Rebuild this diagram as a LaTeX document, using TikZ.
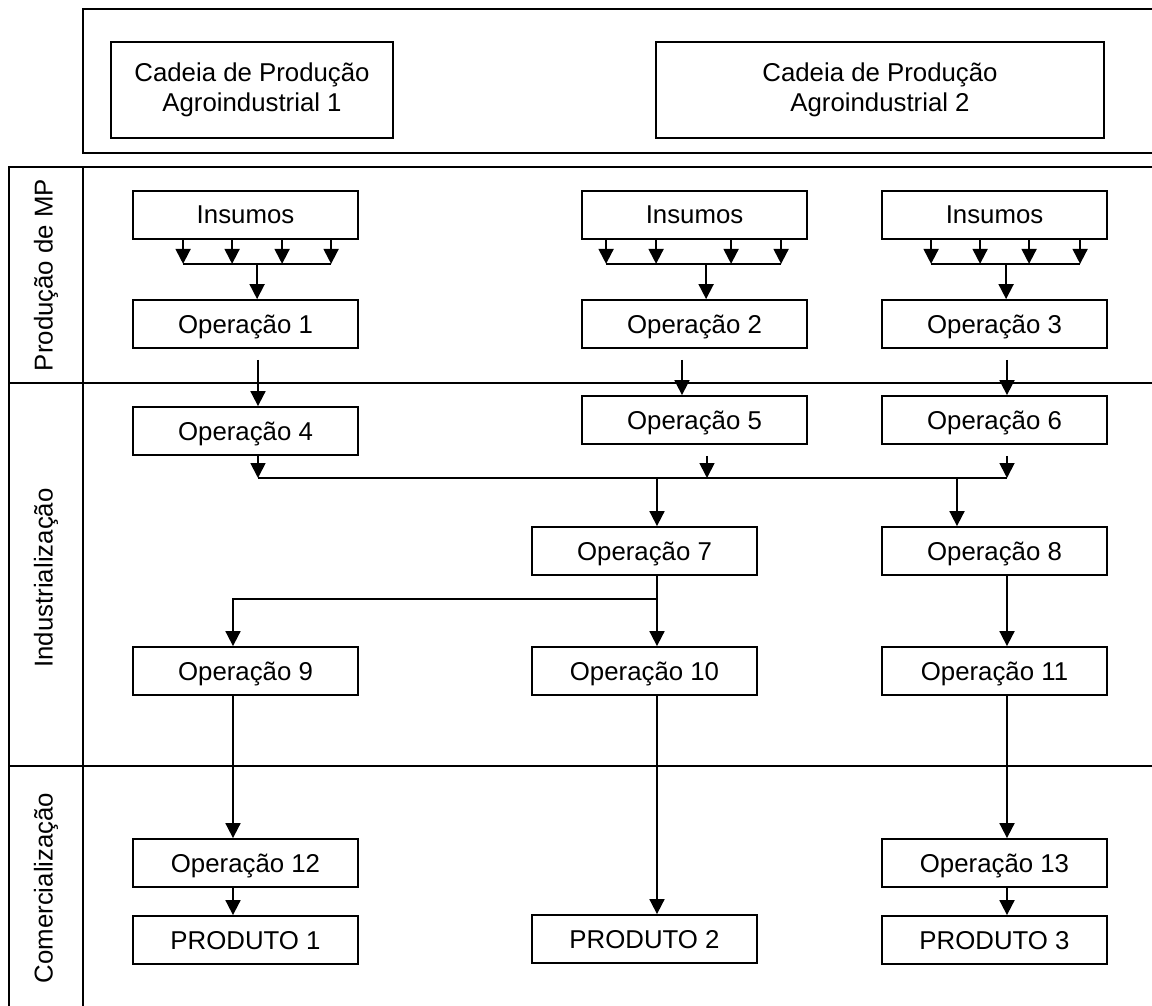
\documentclass[tikz,border=0pt]{standalone}
\usepackage{fontspec}
\setmainfont{Liberation Sans}
\usetikzlibrary{arrows.meta}

\tikzset{
  opbox/.style={draw, line width=1.8pt, minimum width=225pt, minimum height=48pt,
                inner sep=0pt, text depth=0pt, font=\fontsize{25.8}{30}\selectfont},
  lane/.style={rotate=90, inner sep=0pt, font=\fontsize{25.8}{30}\selectfont},
  flow/.style={line width=1.8pt, -{Triangle[width=15pt,length=15pt]}},
  link/.style={line width=1.8pt},
  frame/.style={line width=2.5pt},
}

\begin{document}
\begin{tikzpicture}[x=1pt, y=-1pt]
\useasboundingbox (0,0) rectangle (1152,1006);

% cabecalho
\draw[frame] (1152,9) -- (83,9) -- (83,153) -- (1152,153);
\node[opbox, text depth=, minimum width=282pt, minimum height=96pt, align=center] (cad1) at (252,90)
  {Cadeia de Produção\\Agroindustrial 1};
\node[opbox, text depth=, minimum width=448pt, minimum height=96pt, align=center] (cad2) at (880,90)
  {Cadeia de Produção\\Agroindustrial 2};

% raias
\draw[frame] (1152,167) -- (9,167) -- (9,1006);
\draw[frame] (83,167) -- (83,1006);
\draw[frame] (9,383) -- (1152,383);
\draw[frame] (9,766) -- (1152,766);
\node[lane] (lmp)  at (46,275) {Produção de MP};
\node[lane] (lind) at (46,578) {Industrialização};
\node[lane] (lcom) at (46,888) {Comercialização};

% colunas dos conectores
\coordinate (xA) at (258,0);
\coordinate (xA2) at (233,0);
\coordinate (xB) at (682,0);
\coordinate (xB2) at (707,0);
\coordinate (xC) at (657,0);
\coordinate (xD) at (1007,0);
\coordinate (xD2) at (957,0);

% producao de MP
\foreach \n/\x in {1/133, 2/582, 3/882} {
  \node[opbox] (ins\n) at (\x+112.5,215) {Insumos};
  \node[opbox] (op\n) at (\x+112.5,324) {Operação \n};
}
\foreach \n/\offs in {1/{51,100,150,199}, 2/{25,75,150,200}, 3/{50,99,148,199}} {
  \foreach \d in \offs {
    \draw[flow] ([xshift=\d pt]ins\n.south west) -- ++(0,24);
  }
  \draw[flow] ([xshift=125pt,yshift=-24pt]ins\n.south west) -- ([xshift=125pt]op\n.north west);
}
\draw[link] ([xshift=51pt,yshift=-24pt]ins1.south west) -- ([xshift=199pt,yshift=-24pt]ins1.south west);
\draw[link] ([xshift=25pt,yshift=-24pt]ins2.south west) -- ([xshift=200pt,yshift=-24pt]ins2.south west);
\draw[link] ([xshift=50pt,yshift=-24pt]ins3.south west) -- ([xshift=199pt,yshift=-24pt]ins3.south west);

% industrializacao
\node[opbox] (op4) at (245.5,431) {Operação 4};
\node[opbox] (op5) at (694.5,420) {Operação 5};
\node[opbox] (op6) at (994.5,420) {Operação 6};
\node[opbox] (op7) at (644.5,551) {Operação 7};
\node[opbox] (op8) at (994.5,551) {Operação 8};
\node[opbox] (op9) at (245.5,671) {Operação 9};
\node[opbox] (op10) at (644.5,671) {Operação 10};
\node[opbox] (op11) at (994.5,671) {Operação 11};

\draw[flow] ([yshift=-11pt]op1.south -| xA) -- (op4.north -| xA);
\draw[flow] ([yshift=-11pt]op2.south -| xB) -- (op5.north -| xB);
\draw[flow] ([yshift=-11pt]op3.south -| xD) -- (op6.north -| xD);

\coordinate (bus) at (0,478);
\draw[flow] (op4.south -| xA) -- (bus -| xA);
\draw[flow] ([yshift=-11pt]op5.south -| xB2) -- (bus -| xB2);
\draw[flow] ([yshift=-11pt]op6.south -| xD) -- (bus -| xD);
\draw[link] (bus -| xA) -- (bus -| xD);
\draw[flow] (bus -| xC) -- (op7.north -| xC);
\draw[flow] (bus -| xD2) -- (op8.north -| xD2);

\coordinate (split) at (0,599);
\draw[flow] (op7.south -| xC) -- (op10.north -| xC);
\draw[flow] (split -| xC) -- (split -| xA2) -- (op9.north -| xA2);
\draw[flow] (op8.south -| xD) -- (op11.north -| xD);

% comercializacao
\node[opbox] (op12) at (245.5,863) {Operação 12};
\node[opbox] (op13) at (994.5,863) {Operação 13};
\node[opbox] (prod1) at (245.5,940) {PRODUTO 1};
\node[opbox] (prod2) at (644.5,939) {PRODUTO 2};
\node[opbox] (prod3) at (994.5,940) {PRODUTO 3};

\draw[flow] (op9.south -| xA2) -- (op12.north -| xA2);
\draw[flow] (op10.south -| xC) -- (prod2.north -| xC);
\draw[flow] (op11.south -| xD) -- (op13.north -| xD);
\draw[flow] (op12.south -| xA2) -- (prod1.north -| xA2);
\draw[flow] (op13.south -| xD) -- (prod3.north -| xD);
\end{tikzpicture}
\end{document}
